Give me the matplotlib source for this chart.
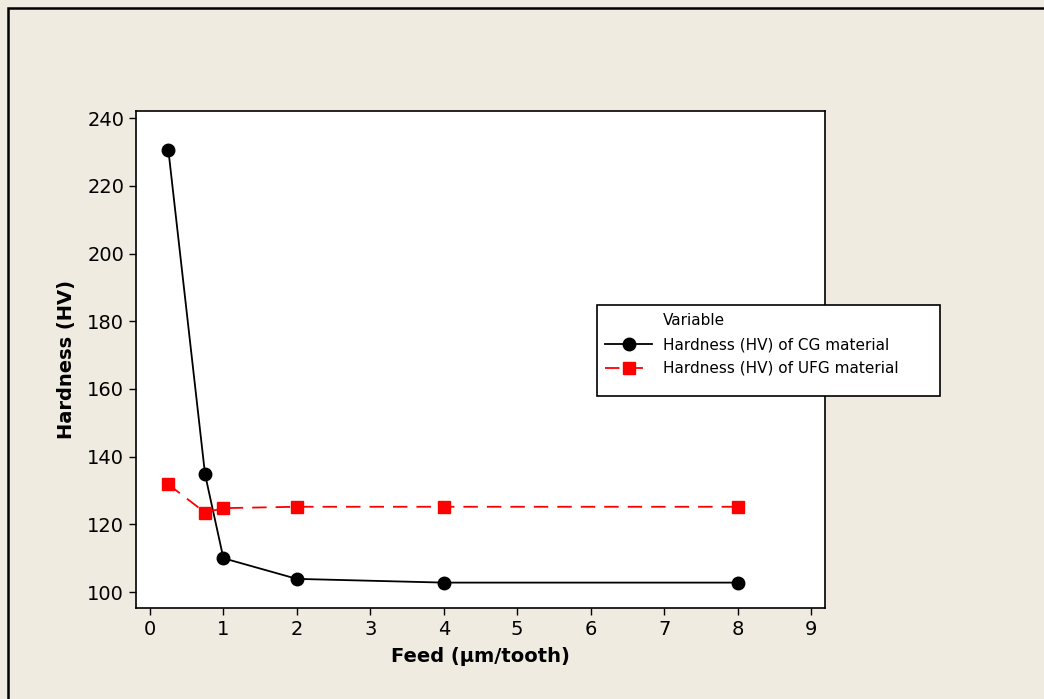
import matplotlib
matplotlib.use("Agg")
import matplotlib.pyplot as plt
from matplotlib.patches import Rectangle

feed = [0.25, 0.75, 1, 2, 4, 8]
cg_hardness = [230.7, 134.8, 110.0, 103.9, 102.8, 102.8]
ufg_hardness = [131.8, 123.5, 124.8, 125.2, 125.2, 125.2]
x_ticks = [0, 1, 2, 3, 4, 5, 6, 7, 8, 9]
y_ticks = [100, 120, 140, 160, 180, 200, 220, 240]

plt.rcParams['font.family'] = ['DejaVu Sans']
W, H = 1044, 699
fig = plt.figure(figsize=(W/100, H/100), dpi=100)
bg = '#EFEBE0'
fig.patch.set_facecolor(bg)
fig.patches.append(Rectangle((8/W, -0.1), 1.2, 1 - 8/H + 0.1, transform=fig.transFigure,
                             fill=False, edgecolor='black', linewidth=1.8))

ax = fig.add_axes([136/W, (H-608)/H, 689/W, 497/H])
ax.set_facecolor('white')
ax.plot(feed, cg_hardness, color='black', marker='o', markersize=9, linewidth=1.3,
        label='Hardness (HV) of CG material')
ax.plot(feed, ufg_hardness, color='red', marker='s', markersize=8.5, linewidth=1.3,
        linestyle=(0, (8, 5)), label='Hardness (HV) of UFG material')
ax.set_xlim(-0.19, 9.19)
ax.set_ylim(95.3, 242.1)
ax.set_xticks(x_ticks)
ax.set_yticks(y_ticks)
ax.tick_params(labelsize=14, length=5, width=1, direction='out')
for s in ax.spines.values():
    s.set_linewidth(1.2)
ax.set_xlabel('Feed (µm/tooth)', fontsize=14, fontweight='bold', labelpad=6)
ax.set_ylabel('Hardness (HV)', fontsize=14, fontweight='bold', labelpad=8)

# legend box
fig.patches.append(Rectangle((597/W, 1 - 396/H), 343/W, 91/H, transform=fig.transFigure,
                             facecolor='white', edgecolor='black', linewidth=1.2, zorder=5))
fig.text(663/W, 1 - 321/H, 'Variable', fontsize=11, va='center', ha='left', zorder=6)
leg = fig.legend(*ax.get_legend_handles_labels(), loc='upper left',
                 bbox_to_anchor=(605/W, 1 - 337/H), bbox_transform=fig.transFigure,
                 fontsize=11, frameon=False, handlelength=3.1, handletextpad=0.68,
                 borderpad=0, borderaxespad=0, labelspacing=0.58)
leg.set_zorder(7)

fig.savefig('out.png', dpi=100, facecolor=bg)
